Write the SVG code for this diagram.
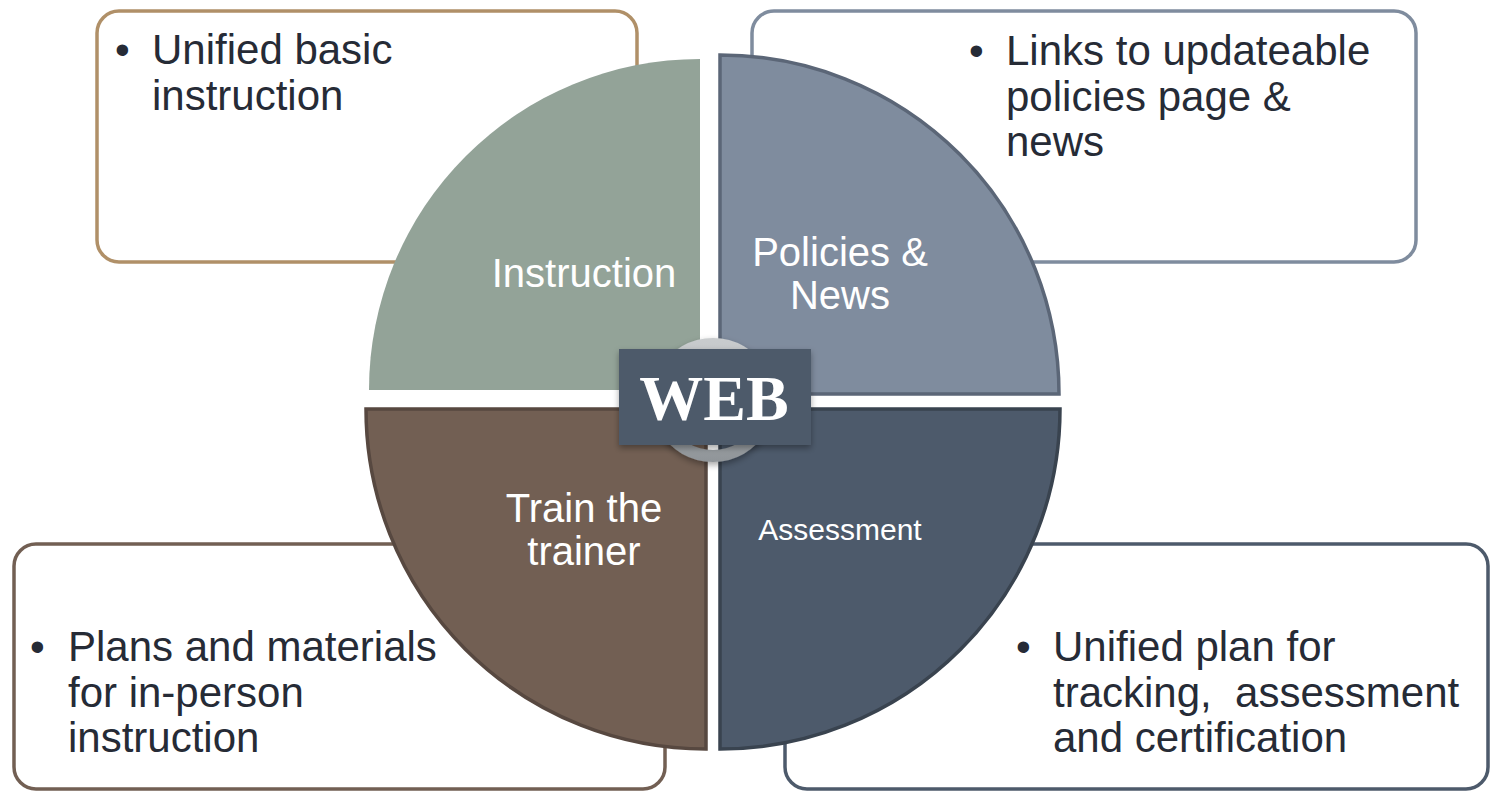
<svg xmlns="http://www.w3.org/2000/svg" width="1491" height="794" viewBox="0 0 1491 794">
  <defs>
    <style>
      .box { fill: #FFFFFF; stroke-width: 3.5; }
      .bt { font-family: "Liberation Sans", Arial, sans-serif; font-size: 42px; fill: #262B36; white-space: pre; }
      .ql { font-family: "Liberation Sans", Arial, sans-serif; font-size: 40px; fill: #FFFFFF; text-anchor: middle; }
      .web { font-family: "Liberation Serif", "Times New Roman", serif; font-weight: bold; font-size: 64px; fill: #FFFFFF; text-anchor: middle; }
    </style>
    <linearGradient id="silver" x1="0" y1="0" x2="0" y2="1">
      <stop offset="0" stop-color="#C9CCCE"/>
      <stop offset="0.5" stop-color="#B4B8BB"/>
      <stop offset="1" stop-color="#8F9498"/>
    </linearGradient>
    <filter id="sh" x="-20%" y="-20%" width="140%" height="140%">
      <feDropShadow dx="0" dy="3" stdDeviation="3" flood-color="#000" flood-opacity="0.35"/>
    </filter>
  </defs>
  <rect width="1491" height="794" fill="#FFFFFF"/>

  <g id="box-instruction">
    <rect class="box" x="97" y="11" width="540" height="251" rx="22" stroke="#B09068"/>
    <text class="bt"><tspan x="115" y="64">•</tspan><tspan x="152" y="64">Unified basic</tspan><tspan x="152" y="110">instruction</tspan></text>
  </g>
  <g id="box-policies">
    <rect class="box" x="752" y="11" width="664" height="251" rx="22" stroke="#7F8C9E"/>
    <text class="bt"><tspan x="969" y="65">•</tspan><tspan x="1006" y="65">Links to updateable</tspan><tspan x="1006" y="111">policies page &amp;</tspan><tspan x="1006" y="156">news</tspan></text>
  </g>
  <g id="box-train">
    <rect class="box" x="14" y="544" width="651" height="245" rx="22" stroke="#725F53"/>
    <text class="bt"><tspan x="30" y="661">•</tspan><tspan x="68" y="661">Plans and materials</tspan><tspan x="68" y="707">for in-person</tspan><tspan x="68" y="752">instruction</tspan></text>
  </g>
  <g id="box-assessment">
    <rect class="box" x="785" y="544" width="703" height="245" rx="22" stroke="#4D5A6B"/>
    <text class="bt" xml:space="preserve"><tspan x="1016" y="661">•</tspan><tspan x="1053" y="661">Unified plan for</tspan><tspan x="1053" y="707">tracking,  assessment</tspan><tspan x="1053" y="752">and certification</tspan></text>
  </g>

  <g id="q-instruction">
    <path d="M700,390 L369,390 A331,331 0 0 1 700,59 Z" fill="#93A398"/>
    <text class="ql" x="584" y="287">Instruction</text>
  </g>
  <g id="q-policies">
    <path d="M720,394 L720,55 A339,339 0 0 1 1059,394 Z" fill="#7F8C9E" stroke="#5B6677" stroke-width="3.5"/>
    <text class="ql"><tspan x="840" y="266">Policies &amp;</tspan><tspan x="840" y="309">News</tspan></text>
  </g>
  <g id="q-train">
    <path d="M706,409 L706,749 A340,340 0 0 1 366,409 Z" fill="#725F53" stroke="#574840" stroke-width="3.5"/>
    <text class="ql"><tspan x="584" y="522">Train the</tspan><tspan x="584" y="565">trainer</tspan></text>
  </g>
  <g id="q-assessment">
    <path d="M720,409 L720,749 A340,340 0 0 0 1060,409 Z" fill="#4D5A6B" stroke="#39434F" stroke-width="3.5"/>
    <text class="ql" x="840" y="540" style="font-size:30px">Assessment</text>
  </g>

  <g id="web">
    <path d="M713,338 A62,62 0 1 1 712.9,338 Z M713,350 A50,50 0 1 0 713.1,350 Z" fill="url(#silver)" fill-rule="evenodd" filter="url(#sh)"/>
    <rect x="619" y="349" width="192" height="96" fill="#4D5A6B" filter="url(#sh)"/>
    <text class="web" x="714" y="420">WEB</text>
  </g>
</svg>
